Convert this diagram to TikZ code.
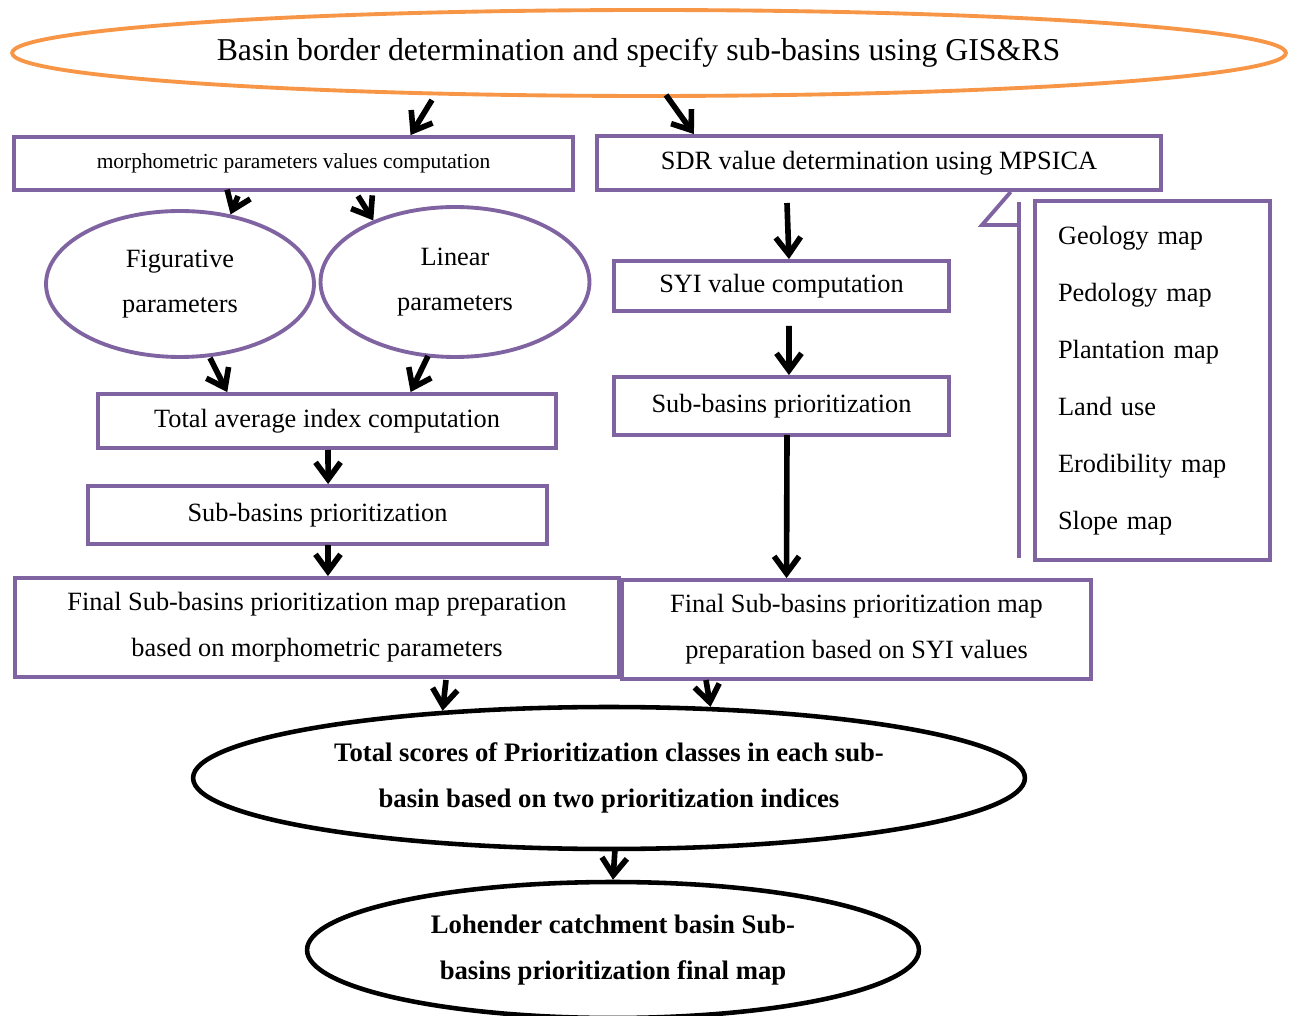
\documentclass[tikz,border=0pt]{standalone}
\usepackage{fontspec}
\setmainfont{Liberation Serif}
\usetikzlibrary{positioning}
\usetikzlibrary{shapes.geometric}
\usetikzlibrary{arrows.meta}
\usetikzlibrary{calc}

\definecolor{boxpurple}{RGB}{128,100,162}
\definecolor{ovalorange}{RGB}{247,150,70}

\tikzset{
  pbox/.style={draw=boxpurple, line width=2.2pt, rectangle, inner sep=0pt, align=center, font=\fontsize{15}{26}\selectfont},
  pell/.style={draw=boxpurple, line width=2.2pt, ellipse, inner sep=0pt, align=center, font=\fontsize{15}{26}\selectfont},
  bell/.style={draw=black, line width=2.6pt, ellipse, inner sep=0pt, align=center, font=\bfseries\fontsize{15.2}{26.5}\selectfont},
  arr/.style={line width=3.2pt, -{Straight Barb[length=3.4mm,width=5mm]}},
}

\begin{document}
\begin{tikzpicture}[x=0.02cm, y=-0.02cm]
  \useasboundingbox (0,0) rectangle (1289,1016);

  % top oval
  \node[draw=ovalorange, line width=2.2pt, ellipse, inner sep=0pt, minimum width=25.48cm, minimum height=1.72cm,
        font=\fontsize{18.1}{22}\selectfont] (basin) at (649,53) {\hspace*{-0.42cm}Basin border determination and specify sub-basins using GIS\&RS};

  % left column
  \node[pbox, minimum width=11.18cm, minimum height=1.06cm, font=\fontsize{12.2}{14}\selectfont] (morph) at (293.5,163.5) {morphometric parameters values computation};
  \node[pell, minimum width=5.36cm, minimum height=2.92cm] (fig) at (180,284) {Figurative\\parameters};
  \node[pell, minimum width=5.38cm, minimum height=3.0cm] (lin) at (455,282) {Linear\\parameters};
  \node[pbox, minimum width=9.16cm, minimum height=1.08cm] (tot) at (327,421) {Total average index computation};
  \node[pbox, minimum width=9.18cm, minimum height=1.16cm] (sbl) at (317.5,515) {Sub-basins prioritization};
  \node[pbox, minimum width=12.08cm, minimum height=1.98cm] (finl) at (317,627.5) {Final Sub-basins prioritization map preparation\\based on morphometric parameters};

  % right column
  \node[pbox, minimum width=11.28cm, minimum height=1.08cm] (sdr) at (879,163) {SDR value determination using MPSICA};
  \node[pbox, minimum width=6.7cm, minimum height=1.0cm] (syi) at (781.5,286) {SYI value computation};
  \node[pbox, minimum width=6.7cm, minimum height=1.16cm] (sbr) at (781.5,406) {Sub-basins prioritization};
  \node[pbox, minimum width=9.38cm, minimum height=1.98cm] (finr) at (856.5,629.5) {Final Sub-basins prioritization map\\preparation based on SYI values};

  % input maps
  \node[pbox, minimum width=4.7cm, minimum height=7.18cm, inner xsep=0.46cm, text width=3.78cm, align=left,
        font=\fontsize{15}{32.5}\selectfont] (maps) at (1152.5,380.5)
        {Geology map\\Pedology map\\Plantation map\\Land use\\Erodibility map\\Slope map};
  \draw[boxpurple, line width=2.2pt] ($(sdr.south west)!0.732!(sdr.south east)$) -- (982,225) -- (1017,225);   %callout
  \draw[boxpurple, line width=2.2pt] (1019,202) -- (1019,558);

  % bottom ovals
  \node[bell, minimum width=16.64cm, minimum height=2.84cm] (score) at (609,778) {Total scores of Prioritization classes in each sub-\\basin based on two prioritization indices};
  \node[bell, minimum width=12.24cm, minimum height=2.72cm] (final) at (613,950) {Lohender catchment basin Sub-\\basins prioritization final map};

  % arrow tails
  \coordinate (t1) at (432,100);
  \coordinate (t2) at (666,95);
  \coordinate (t3) at (238,196);
  \coordinate (t4) at (358,196);
  \coordinate (t5) at (210,358);
  \coordinate (t6) at (428,356);
  \coordinate (t7) at (328,450);
  \coordinate (t8) at (328,545);
  \coordinate (t9) at (787,203);
  \coordinate (t10) at (789,326);
  \coordinate (t11) at (787,435);
  \coordinate (t12) at (446,680);
  \coordinate (t13) at (706,680);
  \coordinate (t14) at (615,849);

  \draw[arr] (t1) -- ($(morph.north west)!0.708!(morph.north east)$);
  \draw[arr] (t2) -- ($(sdr.north west)!0.174!(sdr.north east)$);
  \draw[arr] (t3) -- (fig.54);
  \draw[arr] (t4) -- (lin.143);
  \draw[arr] (t5) -- ($(tot.north west)!0.284!(tot.north east)$);
  \draw[arr] (t6) -- ($(tot.north west)!0.681!(tot.north east)$);
  \draw[arr] (t7) -- ($(sbl.north west)!0.523!(sbl.north east)$);
  \draw[arr] (t8) -- ($(finl.north west)!0.518!(finl.north east)$);
  \draw[arr] (t9) -- ($(syi.north west)!0.522!(syi.north east)$);
  \draw[arr] (t10) -- ($(sbr.north west)!0.522!(sbr.north east)$);
  \draw[arr] (t11) -- ($(finr.north west)!0.352!(finr.north east)$);
  \draw[arr] (t12) -- (score.158);
  \draw[arr] (t13) -- (score.35);
  \draw[arr] (t14) -- (final.north);
\end{tikzpicture}
\end{document}
